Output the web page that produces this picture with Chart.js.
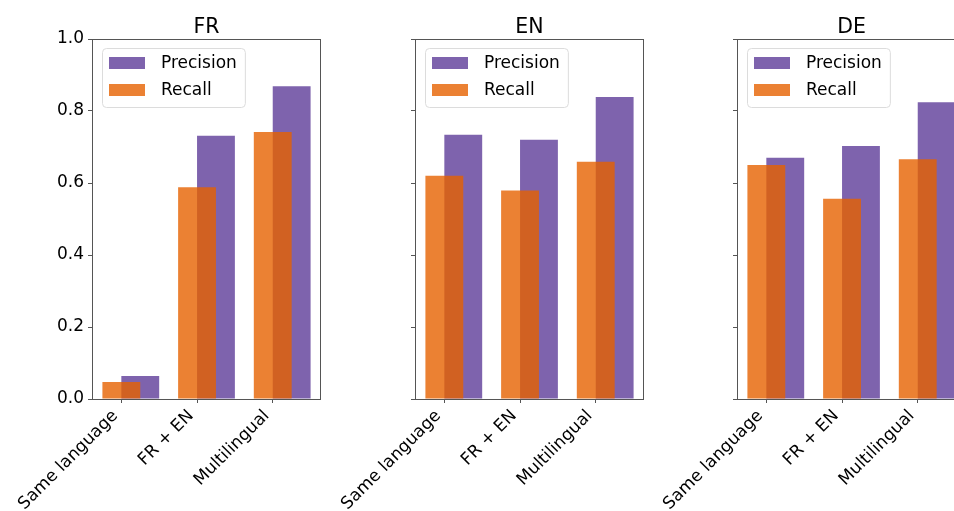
<!DOCTYPE html>
<html>
<head>
<meta charset="utf-8">
<script src="https://cdn.jsdelivr.net/npm/chart.js@4/dist/chart.umd.min.js"></script>
<style>
  html, body { margin: 0; padding: 0; background: #fff; }
  #wrap { position: relative; width: 954px; height: 511px; overflow: hidden; }
  .panel { position: absolute; top: 0; }
</style>
</head>
<body>
<div id="wrap">
  <canvas id="fr" class="panel" width="328" height="511" style="left:2px"></canvas>
  <canvas id="en" class="panel" width="328" height="511" style="left:325px"></canvas>
  <canvas id="de" class="panel" width="328" height="511" style="left:647px"></canvas>
</div>
<script>
// Training setups compared on each test language
const categories = ['Same language', 'FR + EN', 'Multilingual'];
const seriesNames = ['Precision', 'Recall'];
const yTicks = [0, 0.2, 0.4, 0.6, 0.8, 1.0];

const frPrecision = [0.064, 0.731, 0.869];
const frRecall    = [0.047, 0.588, 0.742];
const enPrecision = [0.734, 0.720, 0.839];
const enRecall    = [0.620, 0.579, 0.659];
const dePrecision = [0.670, 0.703, 0.824];
const deRecall    = [0.650, 0.556, 0.666];

const FONT = 'DejaVu Sans';
const precisionColor = 'rgba(94, 60, 153, 0.8)';
const recallColor = 'rgba(230, 97, 0, 0.8)';
const spineColor = '#555';

Chart.defaults.font.family = FONT;
Chart.defaults.color = '#000';

// axes frame (all four spines)
const framePlugin = {
  id: 'frame',
  afterDatasetsDraw(chart) {
    const { ctx, chartArea: a } = chart;
    ctx.save();
    ctx.strokeStyle = spineColor;
    ctx.lineWidth = 1;
    ctx.strokeRect(Math.round(a.left) + 0.5, Math.round(a.top) + 0.5,
                   Math.round(a.right - a.left) - 1, Math.round(a.bottom - a.top));
    ctx.restore();
  }
};

// panel title centred over the axes
const axTitlePlugin = {
  id: 'axTitle',
  afterDraw(chart, args, opts) {
    const { ctx, chartArea: a } = chart;
    ctx.save();
    ctx.font = '20.5px "' + FONT + '"';
    ctx.fillStyle = '#000';
    ctx.textAlign = 'center';
    ctx.textBaseline = 'alphabetic';
    ctx.fillText(opts.text, (a.left + a.right) / 2, a.top - 5.7);
    ctx.restore();
  }
};

// legend box inside the axes, upper left
const legendPlugin = {
  id: 'axLegend',
  afterDraw(chart) {
    const { ctx, chartArea: a } = chart;
    const x0 = a.left + 10, y0 = a.top + 9;
    ctx.save();
    ctx.font = '17px "' + FONT + '"';
    const entries = [
      { label: seriesNames[0], color: precisionColor },
      { label: seriesNames[1], color: recallColor }
    ];
    const textX = 59;
    const tw = Math.max(...entries.map(e => ctx.measureText(e.label).width));
    const w = textX + tw + 8, h = 59;
    ctx.beginPath();
    ctx.roundRect(x0 + 0.5, y0 + 0.5, w, h, 4);
    ctx.fillStyle = 'rgba(255,255,255,0.8)';
    ctx.fill();
    ctx.strokeStyle = '#dcdcdc';
    ctx.lineWidth = 1;
    ctx.stroke();
    entries.forEach((e, i) => {
      const cy = y0 + 15 + i * 27;
      ctx.fillStyle = e.color;
      ctx.fillRect(x0 + 7, cy - 6, 36, 12);
      ctx.fillStyle = '#000';
      ctx.textBaseline = 'middle';
      ctx.textAlign = 'left';
      ctx.fillText(e.label, x0 + textX, cy + 1);
    });
    ctx.restore();
  }
};

function makePanel(id, title, precision, recall, showYLabels) {
  const precisionPts = precision.map((v, i) => ({ x: i + 0.25, y: v }));
  const recallPts = recall.map((v, i) => ({ x: i, y: v }));
  return new Chart(document.getElementById(id), {
    type: 'bar',
    data: {
      datasets: [
        { label: seriesNames[0], data: precisionPts, backgroundColor: precisionColor,
          order: 1, grouped: false, barPercentage: 2, categoryPercentage: 1 },
        { label: seriesNames[1], data: recallPts, backgroundColor: recallColor,
          order: 0, grouped: false, barPercentage: 2, categoryPercentage: 1 }
      ]
    },
    options: {
      responsive: false,
      animation: false,
      devicePixelRatio: 1,
      layout: { padding: { left: 0, right: 9, top: 39, bottom: 0 } },
      plugins: {
        legend: { display: false },
        tooltip: { enabled: false },
        title: { display: false },
        axTitle: { text: title }
      },
      scales: {
        x: {
          type: 'linear', min: -0.3875, max: 2.6375, offset: false,
          afterBuildTicks(scale) { scale.ticks = categories.map((c, i) => ({ value: i })); },
          afterFit(scale) { scale.height = 112; },
          grid: { display: true, drawOnChartArea: false, drawTicks: true, tickLength: 4,
                  color: spineColor, offset: false },
          border: { display: false },
          ticks: {
            autoSkip: false, minRotation: 45, maxRotation: 45, padding: 3, labelOffset: -6,
            font: { size: 17, family: FONT }, color: '#000',
            callback: (v, i) => categories[i]
          }
        },
        y: {
          min: 0, max: 1,
          afterBuildTicks(scale) { scale.ticks = yTicks.map(v => ({ value: v })); },
          afterFit(scale) { scale.width = 90; },
          grid: { display: true, drawOnChartArea: false, drawTicks: true, tickLength: 4,
                  color: spineColor },
          border: { display: false },
          ticks: {
            display: showYLabels, padding: 4,
            font: { size: 17, family: FONT }, color: '#000',
            callback: v => v.toFixed(1)
          }
        }
      }
    },
    plugins: [framePlugin, axTitlePlugin, legendPlugin]
  });
}

makePanel('fr', 'FR', frPrecision, frRecall, true);
makePanel('en', 'EN', enPrecision, enRecall, false);
makePanel('de', 'DE', dePrecision, deRecall, false);
</script>
</body>
</html>
